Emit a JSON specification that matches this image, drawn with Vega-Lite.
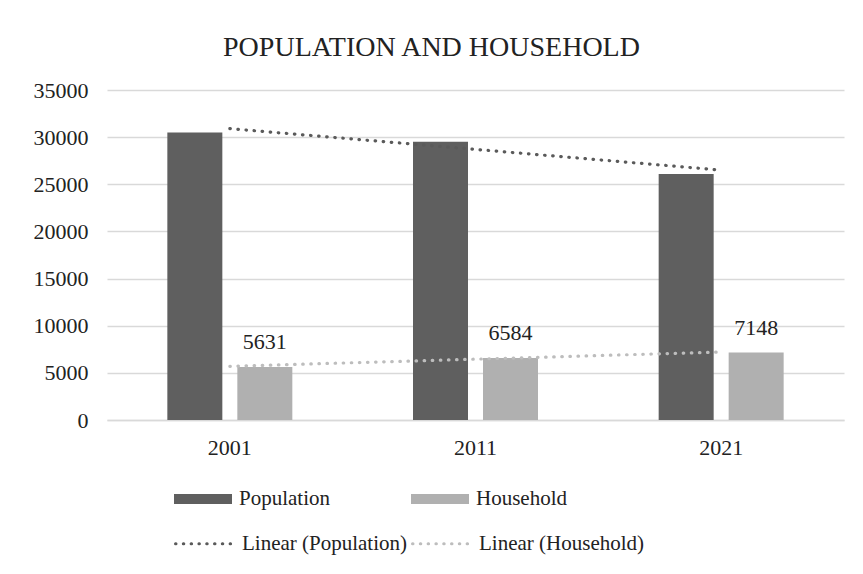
{
  "$schema": "https://vega.github.io/schema/vega-lite/v6.json",
  "width": 737,
  "height": 330,
  "autosize": "none",
  "padding": {"left": 107, "top": 90, "right": 19, "bottom": 154},
  "background": "white",
  "config": {
    "font": "Liberation Serif",
    "view": {"stroke": null}
  },
  "title": {
    "text": "POPULATION AND HOUSEHOLD",
    "font": "Liberation Serif",
    "fontSize": 28,
    "fontWeight": "normal",
    "color": "#222222",
    "anchor": "middle",
    "dx": -44,
    "offset": 17
  },
  "datasets": {
    "bars": [
      {"year": "2001", "series": "Population", "value": 30500},
      {"year": "2001", "series": "Household", "value": 5631},
      {"year": "2011", "series": "Population", "value": 29500},
      {"year": "2011", "series": "Household", "value": 6584},
      {"year": "2021", "series": "Population", "value": 26100},
      {"year": "2021", "series": "Household", "value": 7148}
    ],
    "trend": [
      {"year": "2001", "series": "Linear (Population)", "value": 30900},
      {"year": "2011", "series": "Linear (Population)", "value": 28700},
      {"year": "2021", "series": "Linear (Population)", "value": 26500},
      {"year": "2001", "series": "Linear (Household)", "value": 5696},
      {"year": "2011", "series": "Linear (Household)", "value": 6454},
      {"year": "2021", "series": "Linear (Household)", "value": 7213}
    ]
  },
  "layer": [
    {
      "data": {"name": "bars"},
      "mark": {"type": "bar"},
      "encoding": {
        "x": {
          "field": "year", "type": "nominal", "title": null,
          "scale": {"paddingInner": 0, "paddingOuter": 0},
          "axis": {
            "labelAngle": 0, "labelFontSize": 22, "labelFont": "Liberation Serif",
            "labelColor": "#222222", "labelPadding": 17, "ticks": false,
            "domain": true, "domainColor": "#d9d9d9", "domainWidth": 1.5
          }
        },
        "xOffset": {
          "field": "series", "type": "nominal",
          "sort": ["Population", "Household"],
          "scale": {"paddingInner": 0.2143, "paddingOuter": 0.862}
        },
        "y": {
          "field": "value", "type": "quantitative", "title": null,
          "scale": {"domain": [0, 35000], "nice": false},
          "axis": {
            "values": [0, 5000, 10000, 15000, 20000, 25000, 30000, 35000],
            "format": "d",
            "labelFontSize": 22, "labelFont": "Liberation Serif", "labelColor": "#222222",
            "labelPadding": 19, "ticks": false, "domain": false,
            "grid": true, "gridColor": "#d9d9d9", "gridWidth": 1.5
          }
        },
        "fill": {
          "field": "series", "type": "nominal",
          "scale": {"domain": ["Population", "Household"], "range": ["#5f5f5f", "#b0b0b0"]},
          "legend": {
            "orient": "none", "legendX": 67, "legendY": 380,
            "direction": "horizontal", "columns": 2, "title": null,
            "symbolType": "M-1,-0.17L1,-0.17L1,0.17L-1,0.17Z",
            "symbolSize": 3364, "symbolStrokeWidth": 0,
            "labelFontSize": 21, "labelFont": "Liberation Serif", "labelColor": "#222222",
            "labelOffset": 7, "columnPadding": 80, "labelLimit": 300
          }
        }
      }
    },
    {
      "data": {"name": "bars"},
      "transform": [{"filter": "datum.series === 'Household'"}],
      "mark": {"type": "text", "baseline": "alphabetic", "dy": -18, "fontSize": 22, "font": "Liberation Serif", "color": "#222222"},
      "encoding": {
        "x": {"field": "year", "type": "nominal"},
        "xOffset": {"field": "series", "type": "nominal", "sort": ["Population", "Household"]},
        "y": {"field": "value", "type": "quantitative"},
        "text": {"field": "value", "type": "quantitative", "format": "d"}
      }
    },
    {
      "data": {"name": "trend"},
      "mark": {"type": "line", "strokeWidth": 3.2, "strokeDash": [0.5, 7.6], "strokeCap": "round"},
      "encoding": {
        "x": {"field": "year", "type": "nominal", "bandPosition": 0.5},
        "y": {"field": "value", "type": "quantitative"},
        "stroke": {
          "field": "series", "type": "nominal",
          "scale": {"domain": ["Linear (Population)", "Linear (Household)"], "range": ["#5a5a5a", "#bdbdbd"]},
          "legend": {
            "orient": "none", "legendX": 67, "legendY": 423,
            "direction": "horizontal", "columns": 2, "title": null,
            "symbolType": "stroke", "symbolSize": 3364, "symbolStrokeWidth": 3,
            "symbolDash": [0.5, 7.3],
            "labelFontSize": 21, "labelFont": "Liberation Serif", "labelColor": "#222222",
            "labelOffset": 7, "columnPadding": -2, "labelLimit": 300,
            "encode": {"symbols": {"update": {"strokeCap": {"value": "round"}}}}
          }
        }
      }
    }
  ]
}
